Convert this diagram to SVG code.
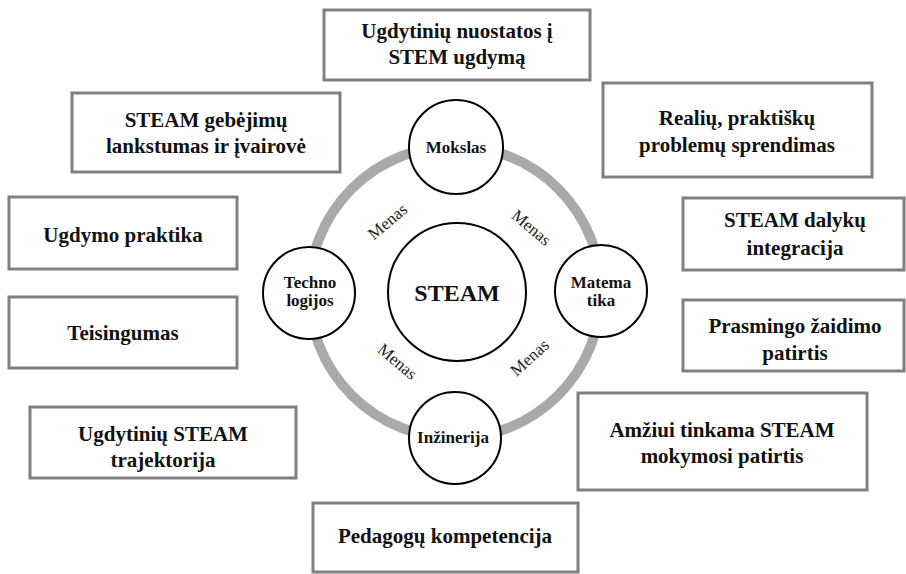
<svg xmlns="http://www.w3.org/2000/svg" width="906" height="574" viewBox="0 0 906 574">
<style>
.box{fill:#fff;stroke:#808080;stroke-width:3}
.bt{font-family:'Liberation Serif','DejaVu Serif',serif;font-weight:bold;font-size:21px;fill:#111;text-anchor:middle}
.node{fill:#fff;stroke:#000;stroke-width:2}
.nt{font-family:'Liberation Serif','DejaVu Serif',serif;font-weight:bold;font-size:17px;fill:#111;text-anchor:middle}
.ring{fill:none;stroke:#a9a9a9;stroke-width:10}
.men{font-family:'Liberation Serif','DejaVu Serif',serif;font-size:17px;fill:#222;text-anchor:middle}
</style>
<rect width="906" height="574" fill="#fff"/>
<g id="connectors">
<circle class="ring" cx="455" cy="292" r="146"/>
<text class="men" transform="translate(388,222) rotate(-40)" y="5">Menas</text>
<text class="men" transform="translate(531,228) rotate(40)" y="5">Menas</text>
<text class="men" transform="translate(397,362) rotate(40)" y="5">Menas</text>
<text class="men" transform="translate(530,358) rotate(-42)" y="5">Menas</text>
</g>
<g id="steam"><circle class="node" cx="457" cy="292" r="69"/><text class="nt" x="457" y="301" style="font-size:24px">STEAM</text></g>
<g id="mokslas"><circle class="node" cx="456" cy="147" r="47"/><text class="nt" x="456" y="153">Mokslas</text></g>
<g id="technologijos"><circle class="node" cx="309" cy="293" r="46"/><text class="nt" x="310" y="288">Techno</text><text class="nt" x="310" y="306">logijos</text></g>
<g id="matematika"><circle class="node" cx="601" cy="291" r="46"/><text class="nt" x="601" y="288">Matema</text><text class="nt" x="601" y="306">tika</text></g>
<g id="inzinerija"><circle class="node" cx="455" cy="438" r="46"/><text class="nt" x="453" y="443">Inžinerija</text></g>
<g id="b1"><rect class="box" x="324" y="10" width="266" height="70"/><text class="bt" x="457" y="38">Ugdytinių nuostatos į</text><text class="bt" x="457" y="64">STEM ugdymą</text></g>
<g id="b2"><rect class="box" x="72" y="93" width="268" height="79"/><text class="bt" x="206" y="127">STEAM gebėjimų</text><text class="bt" x="206" y="153">lankstumas ir įvairovė</text></g>
<g id="b3"><rect class="box" x="603" y="83" width="269" height="94"/><text class="bt" x="737" y="125">Realių, praktiškų</text><text class="bt" x="737" y="152">problemų sprendimas</text></g>
<g id="b4"><rect class="box" x="9" y="197" width="228" height="72"/><text class="bt" x="123" y="242">Ugdymo praktika</text></g>
<g id="b5"><rect class="box" x="683" y="198" width="221" height="72"/><text class="bt" x="795" y="227">STEAM dalykų</text><text class="bt" x="795" y="255">integracija</text></g>
<g id="b6"><rect class="box" x="9" y="297" width="228" height="71"/><text class="bt" x="123" y="340">Teisingumas</text></g>
<g id="b7"><rect class="box" x="683" y="300" width="221" height="71"/><text class="bt" x="795" y="333">Prasmingo žaidimo</text><text class="bt" x="795" y="360">patirtis</text></g>
<g id="b8"><rect class="box" x="30" y="407" width="266" height="71"/><text class="bt" x="163" y="441">Ugdytinių STEAM</text><text class="bt" x="163" y="467">trajektorija</text></g>
<g id="b9"><rect class="box" x="578" y="393" width="289" height="97"/><text class="bt" x="722" y="437">Amžiui tinkama STEAM</text><text class="bt" x="722" y="463">mokymosi patirtis</text></g>
<g id="b10"><rect class="box" x="313" y="503" width="265" height="69"/><text class="bt" x="445" y="543">Pedagogų kompetencija</text></g>
</svg>
